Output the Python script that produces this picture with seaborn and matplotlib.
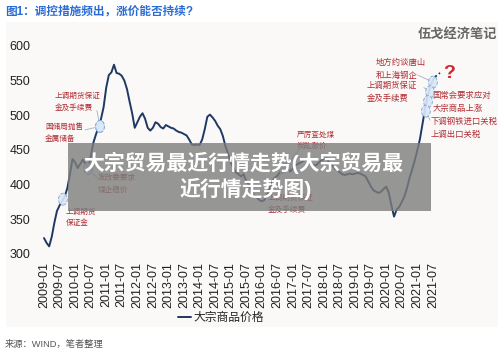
"""大宗商品价格走势图 (2009-2021) 及调控措施标注
"""

import matplotlib
matplotlib.use("Agg")
import matplotlib.pyplot as plt
from matplotlib.patches import Ellipse, Rectangle
import pandas as pd
import seaborn as sns

# monthly commodity price index, 2009-01 .. 2021-08
price = [
    323, 316, 311, 325, 345, 362, 370, 376, 383, 395, 415, 437,
    432, 424, 430, 436, 430, 424, 440, 460, 472, 483, 495, 512,
    540, 558, 562, 573, 561, 560, 557, 550, 538, 520, 503, 482,
    490, 498, 503, 495, 482, 478, 482, 490, 488, 483, 481, 486,
    484, 482, 481, 478, 476, 475, 473, 471, 465, 458, 457, 458,
    457, 465, 480, 498, 501, 497, 492, 485, 480, 470, 455, 445,
    432, 425, 418, 415, 412, 415, 405, 400, 392, 385, 382, 378,
    376, 378, 385, 395, 405, 410, 413, 418, 425, 431, 427, 419,
    423, 428, 430, 432, 434, 436, 434, 430, 428, 428, 432, 435,
    437, 438, 432, 428, 424, 421, 418, 415, 414, 415, 416, 415,
    416, 417, 416, 414, 412, 405, 398, 392, 390, 388, 390, 394,
    397, 388, 370, 354, 364, 368, 375, 383, 395, 410, 422, 435,
    450, 466, 488, 510, 528, 541, 551, 556,
]
tick_labels = [
    "2009-01", "2009-07", "2010-01", "2010-07", "2011-01", "2011-07",
    "2012-01", "2012-07", "2013-01", "2013-07", "2014-01", "2014-07",
    "2015-01", "2015-07", "2016-01", "2016-07", "2017-01", "2017-07",
    "2018-01", "2018-07", "2019-01", "2019-07", "2020-01", "2020-07",
    "2021-01", "2021-07",
]
y_ticks = [300, 350, 400, 450, 500, 550, 600]

# policy notes: text, text anchor (month idx, value), circle (month idx, value), leader start
notes = [
    ("上调期货\n保证金", (8.5, 352), (7.3, 379), None, 5.5),
    ("发改委要求\n煤企稳价", (20.8, 401), (17.0, 423), (20.5, 410), 5.5),
    ("上调期货保证\n金及手续费", (4.2, 519), (21.6, 484), (20.4, 507), 5.5),
    ("国储局抛售\n金属储备", (0.4, 474), (21.6, 484), (15.8, 479), 5.5),
    ("严厉查处煤\n炭乱涨价", (97.6, 463), (94.1, 430), (98.7, 452), 5.5),
    ("上调期货保证\n金及手续费", (86.4, 372), (92.0, 425), (89.0, 388), 5.5),
    ("地方约谈唐山\n和上海钢企", (128.0, 566), (150.0, 548), (144.2, 558), 6),
    ("上调期货保证\n金及手续费", (124.6, 533), (148.9, 534), (146.5, 540), 6),
    ("国常会要求应对\n大宗商品上涨", (149.8, 519), (148.1, 520), None, 6),
    ("下调钢铁进口关税\n上调出口关税", (149.0, 481), (147.3, 506), (148.9, 493), 6),
]

sns.set_style("white")
plt.rcParams["font.family"] = ["Liberation Sans", "Noto Sans CJK SC"]

df = pd.DataFrame({"idx": range(len(price)), "price": price})

fig = plt.figure(figsize=(5, 3.56), dpi=100)
fig.patch.set_facecolor("white")
fig.add_artist(Rectangle((6 / 500, 1 - 327 / 356), 492 / 500, 305 / 356,
                         transform=fig.transFigure, facecolor="#faf9f7",
                         edgecolor="none", zorder=-5))

ax = fig.add_axes([38 / 500, 102 / 356, 432 / 500, 208 / 356])
ax.set_facecolor("none")

navy = "#1f3864"
sns.lineplot(data=df, x="idx", y="price", ax=ax, color=navy, linewidth=1.4,
             label="大宗商品价格", legend=False)
# dotted tail towards the question mark
ax.plot([len(price) - 1, len(price) + 1], [price[-1], price[-1] + 6],
        color=navy, linewidth=1.2, linestyle=(0, (1, 1.5)))
ax.text(len(price) + 2, price[-1] + 4, "?", color="#d4262c", fontsize=14,
        fontweight="bold", ha="left", va="center")

red = "#b02a33"
for txt, (tx, ty), (cx, cy), lead, fs in notes:
    ax.add_patch(Ellipse((cx, cy), 3.4, 17, facecolor="#dce8f6", alpha=0.9,
                         edgecolor="#7fa7d9", linewidth=0.7, linestyle="--", zorder=3))
    if lead is not None:
        ax.plot([lead[0], cx], [lead[1], cy], color="#9fb3c8", linewidth=0.6, zorder=2)
    ax.text(tx, ty, txt, color=red, fontsize=fs, ha="left", va="center",
            linespacing=1.7, zorder=4)

ax.set_xlim(-2.31, 164.3)
ax.set_ylim(300, 600)
ax.set_xticks(range(0, 6 * len(tick_labels), 6))
ax.set_xticklabels(tick_labels, rotation=90, fontsize=9)
ax.set_yticks(y_ticks)
ax.set_yticklabels([str(v) for v in y_ticks], fontsize=9)
ax.tick_params(axis="both", length=0, pad=5.5, colors="#222222")
ax.set_xlabel("")
ax.set_ylabel("")
sns.despine(ax=ax, left=True, bottom=True)

handles, labels = ax.get_legend_handles_labels()
fig.legend(handles[:1], labels[:1], loc="center", bbox_to_anchor=(221 / 500, 1 - 318 / 356),
           frameon=False, fontsize=8.5, handlelength=1.1, handletextpad=0.2)

fig.text(5 / 500, 1 - 12 / 356, "图1：调控措施频出，涨价能否持续?", color="#2b6cd4",
         fontsize=8.4, fontweight="bold", va="center")
fig.text(497 / 500, 1 - 35 / 356, "伍戈经济笔记", color="#666666", fontsize=9.5,
         fontweight="bold", ha="right", va="center")
fig.text(5 / 500, 1 - 345 / 356, "来源：WIND，笔者整理", color="#555555",
         fontsize=6.7, va="center")

# grey caption banner over the chart
fig.add_artist(Rectangle((68 / 500, 1 - 211 / 356), 363 / 500, 68 / 356,
                         transform=fig.transFigure, facecolor="#7d7d7d",
                         edgecolor="none", alpha=0.8, zorder=10))
fig.text(243 / 500, 1 - 163 / 356, "大宗贸易最近行情走势(大宗贸易最", color="white",
         fontsize=15, fontweight="bold", ha="center", va="center", zorder=11)
fig.text(246 / 500, 1 - 189 / 356, "近行情走势图)", color="white",
         fontsize=15, fontweight="bold", ha="center", va="center", zorder=11)

fig.savefig("out.png", dpi=100)
